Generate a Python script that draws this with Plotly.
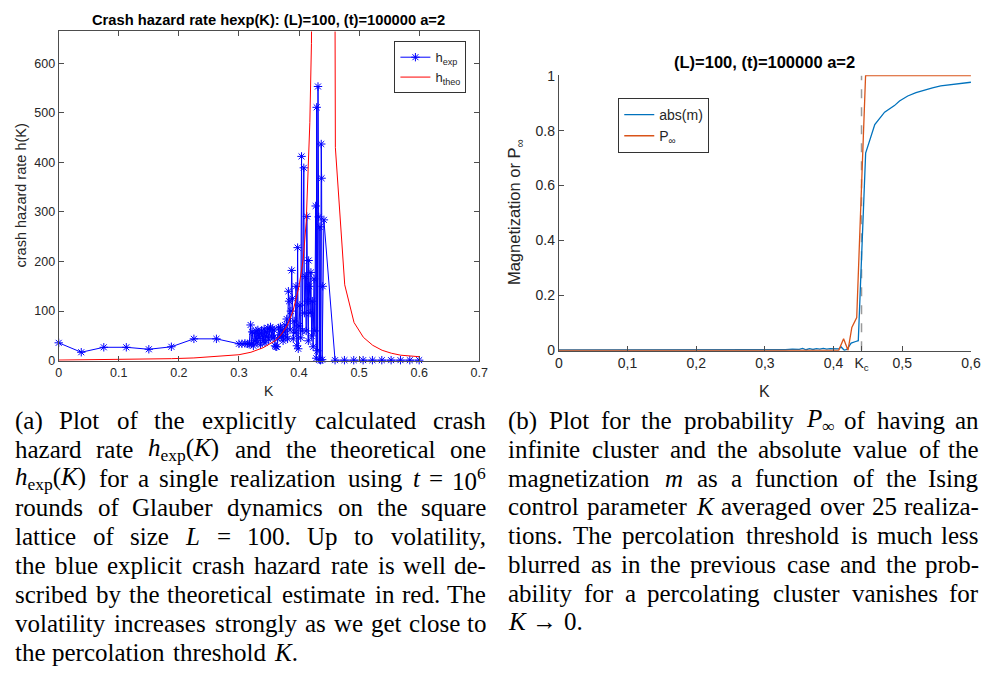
import re
import plotly.graph_objects as go

# ---------------- data: left panel ----------------
K_exp = [0, 0.0375, 0.075, 0.1125, 0.15, 0.1875, 0.225, 0.2625, 0.3, 0.305, 0.31, 0.314, 0.317,
         0.3194, 0.3205, 0.322, 0.324, 0.3255, 0.327, 0.3285, 0.33, 0.3315, 0.333, 0.3345, 0.336,
         0.3375, 0.339, 0.3405, 0.342, 0.3435, 0.345, 0.3465, 0.348, 0.3495, 0.351, 0.3525, 0.354,
         0.3555, 0.357, 0.3585, 0.36, 0.3615, 0.363, 0.3645, 0.366, 0.3675, 0.369, 0.3705, 0.372,
         0.3735, 0.375, 0.3765, 0.378, 0.3795, 0.381, 0.3823, 0.3835, 0.385, 0.3865, 0.3878, 0.389,
         0.3905, 0.392, 0.3935, 0.395, 0.3965, 0.3977, 0.3987, 0.4, 0.4015, 0.4028, 0.4042, 0.4055,
         0.408, 0.409, 0.4105, 0.412, 0.413, 0.4143, 0.4155, 0.416, 0.4172, 0.4185, 0.4198, 0.421,
         0.4222, 0.4235, 0.425, 0.4262, 0.4277, 0.4287, 0.4294, 0.4305, 0.4316, 0.4328, 0.4338,
         0.4348, 0.4358, 0.437, 0.4376, 0.4385, 0.4395, 0.4414, 0.46, 0.4756, 0.4911, 0.5067,
         0.5222, 0.5378, 0.5533, 0.5689, 0.5844, 0.6]
h_exp = [36, 17, 27, 27, 23, 28, 44, 44, 34, 34, 35, 34, 33,
         72, 34, 58, 30, 56, 40, 60, 36, 62, 45, 55, 32,
         60, 50, 40, 64, 36, 58, 48, 66, 42, 60, 68, 50,
         64, 46, 62, 30, 28, 28, 44, 66, 52, 68, 48, 62,
         40, 58, 72, 48, 84, 44, 140, 120, 62, 100, 182, 125,
         44, 80, 56, 150, 30, 228, 24, 70, 112, 46, 412, 60,
         389, 96, 170, 60, 291, 120, 40, 202, 150, 96, 178, 50,
         120, 28, 165, 60, 312, 5, 511, 20, 553, 290, 2,
         270, 1, 437, 368, 2, 150, 284, 1, 1, 1, 1,
         1, 1, 1, 1, 1, 1]

K_theo = [0, 0.0375, 0.075, 0.1125, 0.15, 0.1875, 0.225, 0.2625, 0.3, 0.32, 0.34, 0.36, 0.37,
          0.38, 0.39, 0.4, 0.407, 0.412, 0.415, 0.418, 0.4207, 0.4449, 0.4605, 0.4761, 0.4916,
          0.5072, 0.5227, 0.5383, 0.5538, 0.5694, 0.585, 0.6]
h_theo = [1.2, 1.5, 1.9, 2.4, 3, 4, 5.5, 8, 12, 17, 26, 40, 52,
          70, 100, 150, 205, 280, 376, 480, 640, 8000, 430, 153, 77,
          47, 31, 21, 15, 11, 9.5, 8]

# ---------------- data: right panel ----------------
K_m = [0, 0.05, 0.1, 0.15, 0.2, 0.25, 0.27, 0.3, 0.31, 0.32, 0.33, 0.34, 0.35, 0.355, 0.36,
       0.365, 0.37, 0.375, 0.38, 0.385, 0.39, 0.395, 0.4, 0.4075, 0.411, 0.4156, 0.4194, 0.4256,
       0.4323, 0.436, 0.4467, 0.46, 0.4743, 0.4886, 0.496, 0.508, 0.52, 0.532, 0.544, 0.556,
       0.568, 0.58, 0.59, 0.6]
abs_m = [0.001, 0.001, 0.001, 0.001, 0.002, 0.002, 0.003, 0.002, 0.001, 0.003, 0.002, 0.004,
         0.003, 0.007, 0.002, 0.006, 0.003, 0.006, 0.004, 0.007, 0.004, 0.006, 0.005, 0.005,
         0.012, 0.0, 0.003, 0.026, 0.032, 0.035, 0.718, 0.822, 0.867, 0.891, 0.908, 0.926,
         0.938, 0.948, 0.956, 0.963, 0.967, 0.971, 0.974, 0.976]

K_p = [0, 0.1, 0.2, 0.3, 0.4, 0.4075, 0.4146, 0.421, 0.4266, 0.4337, 0.4466, 0.5, 0.6]
P_inf = [0, 0, 0, 0, 0, 0, 0.042, 0, 0.083, 0.119, 1, 1, 1]

K_c = 0.4407
left_xticks = [0, 0.1, 0.2, 0.3, 0.4, 0.5, 0.6, 0.7]
left_xtext = ["0", "0.1", "0.2", "0.3", "0.4", "0.5", "0.6", "0.7"]
left_yticks = [0, 100, 200, 300, 400, 500, 600]
right_xticks = [0, 0.1, 0.2, 0.3, 0.4, K_c, 0.5, 0.6]
right_xtext = ["0", "0,1", "0,2", "0,3", "0,4", "K<sub>c</sub>", "0,5", "0,6"]
right_yticks = [0, 0.2, 0.4, 0.6, 0.8, 1]
right_ytext = ["0", "0.2", "0.4", "0.6", "0.8", "1"]

caption_a = [
    "(a) Plot of the explicitly calculated crash",
    "hazard rate <i>h</i><sub>exp</sub>(<i>K</i>) and the theoretical one",
    "<i>h</i><sub>exp</sub>(<i>K</i>) for a single realization using <i>t</i> = 10<sup>6</sup>",
    "rounds of Glauber dynamics on the square",
    "lattice of size <i>L</i> = 100. Up to volatility,",
    "the blue explicit crash hazard rate is well de-",
    "scribed by the theoretical estimate in red. The",
    "volatility increases strongly as we get close to",
    "the percolation threshold <i>K</i>.",
]
caption_b = [
    "(b) Plot for the probability <i>P</i><sub>∞</sub> of having an",
    "infinite cluster and the absolute value of the",
    "magnetization <i>m</i> as a function of the Ising",
    "control parameter <i>K</i> averaged over 25 realiza-",
    "tions. The percolation threshold is much less",
    "blurred as in the previous case and the prob-",
    "ability for a percolating cluster vanishes for",
    "<i>K</i> → 0.",
]

W, H = 998, 674
SANS = "Liberation Sans, Arial, sans-serif"
SERIF = "Liberation Serif, Times New Roman, serif"
AXC = "#4d4d4d"
TXC = "#262626"


def px(x):
    return x / W


def py(y):
    return 1 - y / H


fig = go.Figure()
fig.add_trace(go.Scatter(x=K_exp, y=h_exp, mode="lines+markers", name="h<sub>exp</sub>",
                         line=dict(color="#0000ff", width=1),
                         marker=dict(symbol="asterisk-open", size=7, color="#0000ff",
                                     line=dict(color="#0000ff", width=1)),
                         cliponaxis=False, xaxis="x", yaxis="y", legend="legend"))
fig.add_trace(go.Scatter(x=K_theo, y=h_theo, mode="lines", name="h<sub>theo</sub>",
                         line=dict(color="#ff0000", width=1), xaxis="x", yaxis="y",
                         legend="legend"))
fig.add_trace(go.Scatter(x=K_m, y=abs_m, mode="lines", name="abs(m)",
                         line=dict(color="#0072BD", width=1.3), xaxis="x2", yaxis="y2",
                         legend="legend2"))
fig.add_trace(go.Scatter(x=K_p, y=P_inf, mode="lines", name="P<sub>∞</sub>",
                         line=dict(color="#D95319", width=1.3), xaxis="x2", yaxis="y2",
                         legend="legend2"))


def axis_common(size):
    return dict(showgrid=False, zeroline=False, showline=True, linecolor=AXC, linewidth=1,
                ticks="inside", ticklen=5, tickcolor=AXC, tickwidth=1,
                tickfont=dict(family=SANS, size=size, color=TXC))


fig.update_layout(
    width=W, height=H, margin=dict(l=0, r=0, t=0, b=0),
    paper_bgcolor="white", plot_bgcolor="white",
    xaxis=dict(domain=[px(55.5), px(482)], range=[0, 0.7], tickvals=left_xticks,
               ticktext=left_xtext, mirror="ticks", anchor="y", **axis_common(12.5)),
    yaxis=dict(domain=[py(360.7), py(24)], range=[0, 664], tickvals=left_yticks,
               mirror="ticks", anchor="x", **axis_common(12.5)),
    xaxis2=dict(domain=[px(562.7), px(980.7)], range=[0, 0.6], tickvals=right_xticks,
                ticktext=right_xtext, anchor="y2", **axis_common(14)),
    yaxis2=dict(domain=[py(350.5), py(68.8)], range=[-0.0015, 1.0015], tickvals=right_yticks,
                ticktext=right_ytext, anchor="x2", **axis_common(14)),
    showlegend=True,
    legend=dict(x=px(469), xanchor="right", y=py(34), yanchor="top", bgcolor="white",
                bordercolor="#333333", borderwidth=1, font=dict(family=SANS, size=13, color=TXC),
                tracegroupgap=0, itemwidth=30),
    legend2=dict(x=px(623), xanchor="left", y=py(92), yanchor="top", bgcolor="white",
                 bordercolor="#333333", borderwidth=1, font=dict(family=SANS, size=14, color=TXC),
                 tracegroupgap=0, itemwidth=30),
)

fig.add_shape(type="line", xref="x2", yref="y2", x0=K_c, x1=K_c, y0=0, y1=1,
              line=dict(color="#9a9a9a", width=1.5, dash="dash"), layer="below")


def ann(text, x, y, size, bold=False, angle=0, family=SANS, color="black", xanchor="center",
        yanchor="middle"):
    fig.add_annotation(text=("<b>%s</b>" % text) if bold else text, x=px(x), y=py(y),
                       xref="paper", yref="paper", showarrow=False, textangle=angle,
                       xanchor=xanchor, yanchor=yanchor, borderpad=0,
                       font=dict(family=family, size=size, color=color))


ann("Crash hazard rate hexp(K): (L)=100, (t)=100000 a=2", 268.75, 12, 14.7, bold=True)
ann("(L)=100, (t)=100000 a=2", 771.7, 55, 16.5, bold=True)
ann("K", 268.75, 392, 14, color=TXC)
ann("K", 771.7, 392, 16, color=TXC)
ann("crash hazard rate h(K)", 17, 192, 14.5, angle=-90, color=TXC)
ann("Magnetization or P<sub>∞</sub>", 519, 209, 16.5, angle=-90, color=TXC)

# ---------------- justified captions ----------------
TW = {' ': 250, '(': 333, ')': 333, ',': 250, '-': 333, '.': 250, '=': 564, '∞': 713, '→': 1000,
      'A': 722, 'B': 667, 'C': 667, 'D': 722, 'E': 611, 'F': 556, 'G': 722, 'H': 722, 'I': 333,
      'J': 389, 'K': 722, 'L': 611, 'M': 889, 'N': 722, 'O': 722, 'P': 556, 'Q': 722, 'R': 667,
      'S': 556, 'T': 611, 'U': 722, 'V': 722, 'W': 944, 'X': 722, 'Y': 722, 'Z': 611,
      'a': 444, 'b': 500, 'c': 444, 'd': 500, 'e': 444, 'f': 333, 'g': 500, 'h': 500, 'i': 278,
      'j': 278, 'k': 500, 'l': 278, 'm': 778, 'n': 500, 'o': 500, 'p': 500, 'q': 500, 'r': 333,
      's': 389, 't': 278, 'u': 500, 'v': 500, 'w': 722, 'x': 500, 'y': 500, 'z': 444}


def html_width(s, size):
    w = 0.0
    scale = 1.0
    for tok in re.split(r'(<[^>]+>)', s):
        if tok.startswith('<'):
            if tok in ('<sub>', '<sup>'):
                scale = 0.7
            elif tok in ('</sub>', '</sup>'):
                scale = 1.0
            continue
        for ch in tok:
            w += TW.get(ch, 500) * scale
    return w * size / 1000.0 * 1.035


CAP_SIZE = 25


def caption(lines, left, right, top, step):
    for i, line in enumerate(lines):
        words = line.split(' ')
        widths = [html_width(wd, CAP_SIZE) for wd in words]
        y = top + i * step
        last = (i == len(lines) - 1)
        if last or len(words) == 1:
            gap = 0.25 * CAP_SIZE
        else:
            gap = (right - left - sum(widths)) / (len(words) - 1)
        x = left
        for j, wd in enumerate(words):
            if (not last) and j == len(words) - 1 and j > 0:
                ann(wd, right, y, CAP_SIZE, family=SERIF, color="black", xanchor="right")
            else:
                ann(wd, x, y, CAP_SIZE, family=SERIF, color="black", xanchor="left")
            x += widths[j] + gap


caption(caption_a, 10, 490, 422, 29.7)
caption(caption_b, 510, 990, 422, 29.4)

fig.write_html("out.html")
